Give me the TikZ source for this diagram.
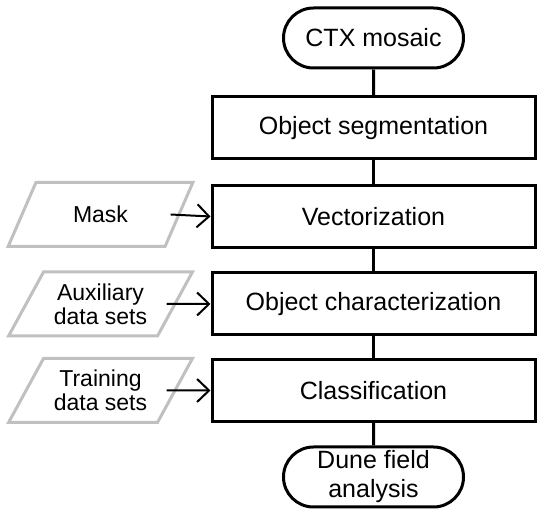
\documentclass[tikz,border=0pt]{standalone}
\usepackage{fontspec}
\setmainfont{Liberation Sans}
\usetikzlibrary{shapes.misc,shapes.geometric,arrows.meta}
\definecolor{pgray}{RGB}{192,192,192}
\tikzset{
  stepbox/.style={draw=black,line width=1.5pt,minimum width=161.5pt,minimum height=31pt,inner sep=0pt,font=\fontsize{12.5}{14}\selectfont},
  pill/.style={draw=black,line width=1.5pt,rounded rectangle,minimum width=90pt,minimum height=30pt,inner sep=0pt,align=center,font=\fontsize{12.5}{14.5}\selectfont},
  datain/.style={draw=pgray,line width=1.5pt,trapezium,trapezium left angle=55,trapezium right angle=125,trapezium stretches=true,minimum width=92.5pt,minimum height=32pt,inner sep=0pt,align=center,font=\fontsize{11.5}{12}\selectfont},
  link/.style={draw=black,line width=1.5pt},
  feed/.style={draw=black,line width=1pt,-{Straight Barb[length=6pt,width=11.5pt,line width=1pt]}}
}
\begin{document}
\begin{tikzpicture}[x=0.5pt,y=-0.5pt]
\useasboundingbox (0,0) rectangle (537,513);
\node[pill] (ctx) at (373.5,38) {CTX mosaic};
\node[stepbox] (seg) at (373.5,128) {Object segmentation};
\node[stepbox] (vec) at (373.5,216.5) {Vectorization};
\node[stepbox] (cha) at (373.5,304) {Object characterization};
\node[stepbox] (cla) at (373.5,390.5) {Classification};
\node[pill] (dune) at (373.5,477) {Dune field\\analysis};
\node[datain] (mask) at (100.5,214.5) {Mask};
\node[datain] (aux) at (100.5,304) {Auxiliary\\data sets};
\node[datain] (tra) at (100.5,390.5) {Training\\data sets};
\draw[link] (ctx) -- (seg);
\draw[link] (seg) -- (vec);
\draw[link] (vec) -- (cha);
\draw[link] (cha) -- (cla);
\draw[link] (cla) -- (dune);
\draw[feed] (mask.east) ++(-10,0) coordinate (m1) (m1) -- (vec.west);
\draw[feed] (aux.east) ++(-10,0) coordinate (a1) (a1) -- (cha.west);
\draw[feed] (tra.east) ++(-10,0) coordinate (t1) (t1) -- (cla.west);
\end{tikzpicture}
\end{document}
